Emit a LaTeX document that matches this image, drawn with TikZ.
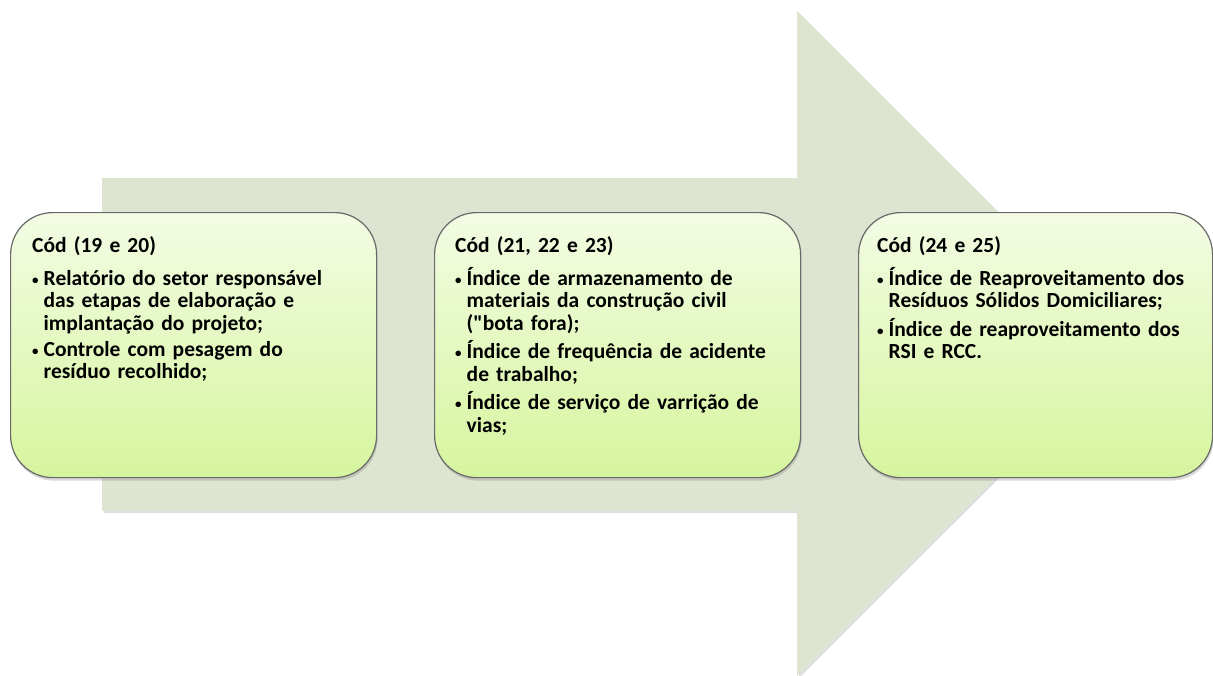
\documentclass[tikz,border=0pt]{standalone}
\usepackage{fontspec}
\setmainfont{Carlito}[Ligatures=TeXOff]
\usetikzlibrary{shadows}
\definecolor{arrowgray}{RGB}{221,228,208}
\definecolor{boxtop}{RGB}{243,252,228}
\definecolor{boxbottom}{RGB}{214,245,158}
\definecolor{boxline}{RGB}{105,105,105}
\tikzstyle{stage}=[draw=boxline, line width=1.2pt, rounded corners=42pt,
  top color=boxtop, bottom color=boxbottom, minimum width=366pt,
  minimum height=265pt, anchor=north west,
  drop shadow={opacity=0.3, shadow xshift=1pt, shadow yshift=-3pt}]
\tikzstyle{stagetext}=[anchor=north west, inner sep=0pt, text width=350pt,
  font=\bfseries\fontsize{21.5}{22.5}\selectfont]
\newcommand{\bitem}[1]{\par\vspace{6.5pt}\noindent
  \makebox[11.5pt][l]{\raisebox{1pt}{\fontsize{13}{13}\selectfont\textbullet}}%
  \parbox[t]{335pt}{#1}}

\begin{document}
\begin{tikzpicture}[x=1pt, y=-1pt]
        \useasboundingbox (0,0) rectangle (1213,675);
        % big arrow behind the stages
        \fill[arrowgray, drop shadow={opacity=0.25, shadow xshift=2pt, shadow yshift=-2pt}]
          (102,178) -- (797,178) -- (797,11) -- (1130,343.5) -- (797,676) -- (797,511) -- (102,511) -- cycle;
        \node[stage] (s1) at (10,212) {};
        \node[stage] (s2) at (434,212) {};
        \node[stage, minimum width=354pt] (s3) at (858,212) {};
        \node[stagetext] (t1) at ([shift={(22,24)}]s1.north west) {Cód (19 e 20)\par\vspace{4pt}
          \bitem{Relatório do setor responsável\\das etapas de elaboração e\\implantação do projeto;}
          \bitem{Controle com pesagem do\\resíduo recolhido;}};
        \node[stagetext] (t2) at ([shift={(21,24)}]s2.north west) {Cód (21, 22 e 23)\par\vspace{4pt}
          \bitem{Índice de armazenamento de\\materiais da construção civil\\("bota fora);}
          \bitem{Índice de frequência de acidente\\de trabalho;}
          \bitem{Índice de serviço de varrição de\\vias;}};
        \node[stagetext] (t3) at ([shift={(19,24)}]s3.north west) {Cód (24 e 25)\par\vspace{4pt}
          \bitem{Índice de Reaproveitamento dos\\Resíduos Sólidos Domiciliares;}
          \bitem{Índice de reaproveitamento dos\\RSI e RCC.}};
\end{tikzpicture}
\end{document}
